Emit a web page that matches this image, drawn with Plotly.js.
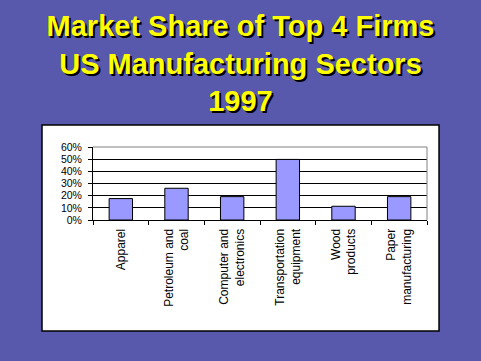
<!DOCTYPE html>
<html>
<head>
<meta charset="utf-8">
<script src="https://cdn.plot.ly/plotly-3.0.1.min.js"></script>
<style>html,body{margin:0;padding:0;background:#5858ac;}#chart{width:481px;height:361px;}</style>
</head>
<body>
<div id="chart"></div>
<script>
// Data
const categories = ["Apparel", "Petroleum and<br>coal", "Computer and<br>electronics", "Transportation<br>equipment", "Wood<br>products", "Paper<br>manufacturing"];
const shares = [0.176, 0.261, 0.192, 0.498, 0.113, 0.192];
const yTickValues = [0, 0.1, 0.2, 0.3, 0.4, 0.5, 0.6];
const yTickLabels = ["0%", "10%", "20%", "30%", "40%", "50%", "60%"];
const titleText = "Market Share of Top 4 Firms<br>US Manufacturing Sectors<br>1997";

const trace = {
  type: "bar",
  x: categories,
  y: shares,
  marker: {color: "#9999ff", line: {color: "#000000", width: 1}},
  hoverinfo: "none"
};

const layout = {
  width: 481, height: 361,
  paper_bgcolor: "#5858ac",
  plot_bgcolor: "#c0c0c0",
  margin: {l: 93, r: 54, t: 147, b: 141, pad: 0},
  bargap: 0.58,
  showlegend: false,
  title: {
    text: titleText,
    font: {family: "Liberation Sans, Arial, sans-serif", size: 29, color: "#ffff00", weight: "bold", shadow: "2px 2px 0px #000000"},
    x: 0.5, xref: "container", xanchor: "center",
    y: 0.9, yref: "container", yanchor: "middle"
  },
  xaxis: {
    type: "category",
    tickangle: -90,
    ticks: "outside", ticklen: 4, tickcolor: "#000", tickwidth: 1,
    tickson: "boundaries",
    ticklabelstandoff: 3,
    showline: true, linecolor: "#000", linewidth: 1,
    showgrid: false, zeroline: false,
    tickfont: {family: "Liberation Sans, Arial, sans-serif", size: 12, color: "#000"},
    fixedrange: true
  },
  yaxis: {
    range: [0, 0.6],
    tickvals: yTickValues, ticktext: yTickLabels,
    ticks: "outside", ticklen: 4, tickcolor: "#000", tickwidth: 1,
    ticklabelstandoff: 4,
    showline: true, linecolor: "#000", linewidth: 1,
    showgrid: true, gridcolor: "#000", gridwidth: 1,
    zeroline: false,
    tickfont: {family: "Liberation Sans, Arial, sans-serif", size: 10.5, color: "#000"},
    fixedrange: true
  },
  shapes: [
    {type: "rect", xref: "paper", yref: "paper", x0: -0.1527, x1: 1.036, y0: -1.52, y1: 1.30,
     fillcolor: "#ffffff", line: {color: "#000000", width: 1.5}, layer: "below"},
    {type: "path", xref: "paper", yref: "paper", path: "M 0 1 L 1 1 L 1 0",
     line: {color: "#808080", width: 1}, layer: "above"}
  ]
};

Plotly.newPlot("chart", [trace], layout, {staticPlot: true, displayModeBar: false});
</script>
</body>
</html>
